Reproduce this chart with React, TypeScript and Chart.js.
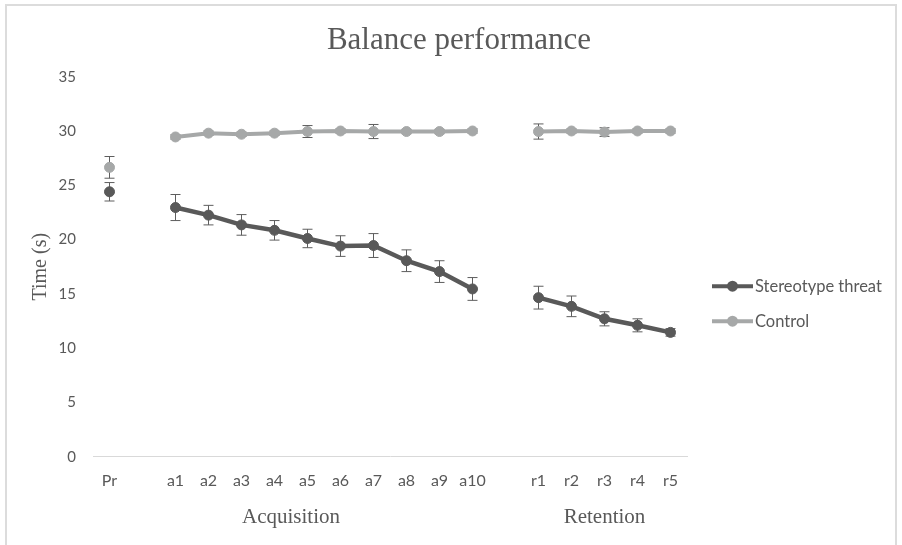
import React, { useEffect, useRef } from 'react';
import { Chart, registerables } from 'chart.js';

Chart.register(...registerables);

// ---- Data ----
const categories = ['Pr', '', 'a1', 'a2', 'a3', 'a4', 'a5', 'a6', 'a7', 'a8', 'a9', 'a10', '', 'r1', 'r2', 'r3', 'r4', 'r5'];

const stereotypeThreat = [24.4, null, 22.95, 22.25, 21.35, 20.85, 20.1, 19.4, 19.45, 18.05, 17.05, 15.45, null, 14.65, 13.85, 12.7, 12.1, 11.45];
const stereotypeThreatErr = [0.85, null, 1.2, 0.9, 0.95, 0.9, 0.85, 0.95, 1.1, 1.0, 1.0, 1.05, null, 1.05, 0.95, 0.65, 0.6, 0.35];

const control = [26.65, null, 29.45, 29.8, 29.7, 29.8, 29.95, 30.0, 29.95, 29.95, 29.95, 30.0, null, 29.95, 30.0, 29.9, 30.0, 30.0];
const controlErr = [1.0, null, 0.2, 0.2, 0.2, 0.2, 0.55, 0.2, 0.65, 0.2, 0.2, 0.2, null, 0.7, 0.2, 0.4, 0.2, 0.2];

const seriesNames = ['Stereotype threat', 'Control'];
const chartTitle = 'Balance performance';
const yTitle = 'Time (s)';
const groups = [
  { label: 'Acquisition', from: 0, to: 11 },
  { label: 'Retention', from: 13, to: 17 },
];
const yMin = 0;
const yMax = 35;
const yStep = 5;

const DARK = '#595959';
const LIGHT = '#A6A8A8';
const TEXT = '#595959';

const titlePlugin = {
  id: 'mainTitle',
  afterDraw(chart: any) {
    const ctx = chart.ctx;
    ctx.save();
    ctx.fillStyle = TEXT;
    ctx.font = '31px "Liberation Serif"';
    ctx.textAlign = 'center';
    ctx.textBaseline = 'alphabetic';
    ctx.fillText(chartTitle, chart.width / 2 + 8, 49);
    ctx.restore();
  },
};

const errorBarPlugin = {
  id: 'errorBars',
  beforeDatasetsDraw(chart: any) {
    const ctx = chart.ctx;
    const yScale = chart.scales.y;
    const errs = [stereotypeThreatErr, controlErr];
    ctx.save();
    ctx.strokeStyle = '#5E5E5E';
    ctx.lineWidth = 1;
    chart.data.datasets.forEach((ds: any, i: number) => {
      const meta = chart.getDatasetMeta(i);
      ds.data.forEach((v: number | null, j: number) => {
        const e = errs[i][j];
        if (v == null || e == null) return;
        const x = meta.data[j].x;
        const yt = yScale.getPixelForValue(v + e);
        const yb = yScale.getPixelForValue(v - e);
        ctx.beginPath();
        ctx.moveTo(x, yt);
        ctx.lineTo(x, yb);
        ctx.moveTo(x - 5, yt);
        ctx.lineTo(x + 5, yt);
        ctx.moveTo(x - 5, yb);
        ctx.lineTo(x + 5, yb);
        ctx.stroke();
      });
    });
    ctx.restore();
  },
};

const groupLabelPlugin = {
  id: 'groupLabels',
  afterDraw(chart: any) {
    const ctx = chart.ctx;
    const xScale = chart.scales.x;
    ctx.save();
    ctx.fillStyle = TEXT;
    ctx.font = '21px "Liberation Serif"';
    ctx.textAlign = 'center';
    ctx.textBaseline = 'middle';
    groups.forEach((g) => {
      const cx = (xScale.getPixelForValue(g.from) + xScale.getPixelForValue(g.to)) / 2;
      ctx.fillText(g.label, cx, chart.chartArea.bottom + 61);
    });
    ctx.restore();
  },
};

const legendPlugin = {
  id: 'sideLegend',
  afterDraw(chart: any) {
    const ctx = chart.ctx;
    const x0 = chart.chartArea.right + 25;
    const y0 = chart.chartArea.top + 209.5;
    ctx.save();
    chart.data.datasets.forEach((ds: any, i: number) => {
      const y = y0 + i * 35;
      ctx.strokeStyle = ds.borderColor;
      ctx.lineWidth = 4;
      ctx.beginPath();
      ctx.moveTo(x0, y);
      ctx.lineTo(x0 + 41, y);
      ctx.stroke();
      ctx.fillStyle = ds.pointBackgroundColor;
      ctx.beginPath();
      ctx.arc(x0 + 20.5, y, 5.5, 0, Math.PI * 2);
      ctx.fill();
      ctx.fillStyle = TEXT;
      ctx.font = '16.5px Lato';
      ctx.textAlign = 'left';
      ctx.textBaseline = 'middle';
      ctx.fillText(ds.label, x0 + 43, y);
    });
    ctx.restore();
  },
};

function ChartView() {
  const ref = useRef<HTMLCanvasElement | null>(null);
  useEffect(() => {
    if (!ref.current) return;
    const chart = new Chart(ref.current, {
      type: 'line',
      data: {
        labels: categories,
        datasets: [
          {
            label: seriesNames[0],
            data: stereotypeThreat,
            borderColor: DARK,
            backgroundColor: DARK,
            pointBackgroundColor: DARK,
            pointBorderColor: DARK,
            borderWidth: 4.5,
            pointRadius: 5,
            pointBorderWidth: 1,
            spanGaps: false,
            tension: 0,
          },
          {
            label: seriesNames[1],
            data: control,
            borderColor: LIGHT,
            backgroundColor: LIGHT,
            pointBackgroundColor: LIGHT,
            pointBorderColor: LIGHT,
            borderWidth: 4,
            pointRadius: 5,
            pointBorderWidth: 1,
            spanGaps: false,
            tension: 0,
          },
        ],
      },
      options: {
        responsive: false,
        animation: false,
        devicePixelRatio: 1,
        layout: { padding: { left: 0, right: 215, top: 76.7, bottom: 0 } },
        plugins: {
          legend: { display: false },
          tooltip: { enabled: false },
          title: { display: false },
        },
        scales: {
          x: {
            type: 'category',
            offset: true,
            grid: { display: false, drawTicks: false },
            border: { display: true, color: '#D9D9D9', width: 1 },
            ticks: {
              color: TEXT,
              font: { family: 'Lato', size: 16 },
              padding: 15,
              autoSkip: false,
              maxRotation: 0,
            },
            afterFit: (s: any) => {
              s.height = 88.3;
            },
          },
          y: {
            min: yMin,
            max: yMax,
            grid: { display: false, drawTicks: false },
            border: { display: false },
            ticks: {
              stepSize: yStep,
              color: TEXT,
              font: { family: 'Lato', size: 15 },
              padding: 17,
            },
            title: {
              display: true,
              text: yTitle,
              color: TEXT,
              font: { family: '"Liberation Serif"', size: 20, weight: 'normal' },
              padding: { top: 29, bottom: 0 },
            },
            afterFit: (s: any) => {
              s.width = 93;
            },
          },
        },
      },
      plugins: [errorBarPlugin, groupLabelPlugin, legendPlugin, titlePlugin],
    });
    return () => chart.destroy();
  }, []);
  return <canvas ref={ref} width={902} height={545} style={{ position: 'absolute', left: 0, top: 0, width: 902, height: 545 }} />;
}

export default function App() {
  return (
    <div style={{ position: 'fixed', left: 0, top: 0, width: 902, height: 545, background: '#ffffff', overflow: 'hidden' }}>
      <div
        style={{
          position: 'absolute',
          left: 5,
          top: 4,
          width: 892,
          height: 560,
          border: '2px solid #DCDCDC',
          boxSizing: 'border-box',
        }}
      />
      <ChartView />
    </div>
  );
}
